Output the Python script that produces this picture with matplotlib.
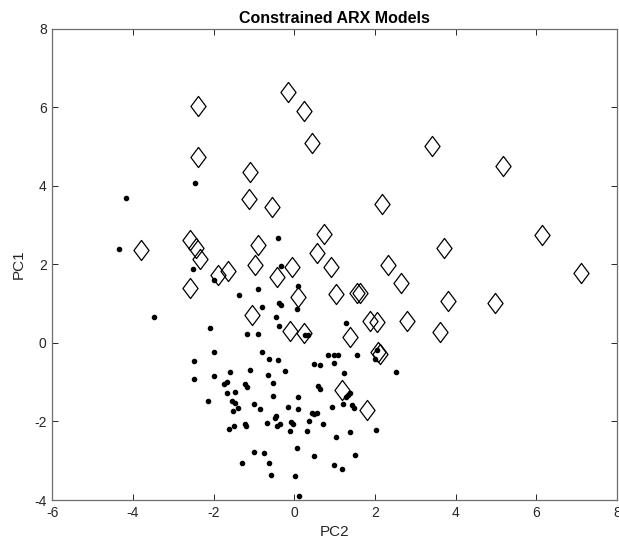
import numpy as np
import matplotlib
matplotlib.use("Agg")
import matplotlib.pyplot as plt
from matplotlib.path import Path

# constrained models (diamonds)
diamond_pc2 = [-2.40, -2.40, -0.16, 0.23, 0.43, -1.11, -1.13, -0.56, 3.42, 5.18,
               2.16, 0.73, 0.56, 0.90, 3.72, 6.13, 7.11, 2.33, 2.65, 1.04,
               1.55, 1.62, 3.80, 4.98, 1.88, 2.05, 2.80, 3.61, 1.38, 0.24,
               2.08, 2.12, 0.10, -3.80, -2.59, -2.45, -2.33, -2.59, -1.89, -1.64,
               -0.91, -0.97, -0.42, -0.05, -1.05, -0.10, 1.18, 1.79]
diamond_pc1 = [6.03, 4.73, 6.40, 5.91, 5.10, 4.36, 3.67, 3.46, 5.02, 4.50,
               3.55, 2.78, 2.29, 1.94, 2.43, 2.74, 1.79, 1.99, 1.54, 1.25,
               1.28, 1.27, 1.08, 1.02, 0.57, 0.53, 0.56, 0.27, 0.16, 0.25,
               -0.22, -0.28, 1.17, 2.37, 2.62, 2.41, 2.15, 1.39, 1.74, 1.83,
               2.49, 1.99, 1.68, 1.94, 0.71, 0.31, -1.20, -1.71]

# all models (dots)
dot_pc2 = [-4.17, -2.46, -4.35, -2.51, -3.49, -2.00, -1.37, -0.41, -0.32, 0.08,
           -0.91, -0.81, -0.37, -0.33, 0.06, -0.45, -0.38, -2.09, -1.18, -0.90,
           0.26, 0.33, -1.99, -0.80, 0.84, 0.97, 1.08, -0.62, -0.41, -2.48,
           -2.50, -1.98, -1.60, -1.10, -0.23, -0.66, -0.53, -1.75, -1.66, -1.23,
           -1.18, -1.66, -1.47, -0.52, 0.08, -2.14, -1.55, -1.46, -1.51, -1.40,
           -1.61, -1.49, -1.23, -1.21, -1.00, -0.85, -0.68, -0.48, -0.46, -0.43,
           -0.35, -0.16, -0.12, -0.08, -0.03, 0.09, 0.06, -1.00, -0.75, -1.30,
           -0.63, -0.59, 0.02, 0.11, 1.27, 2.05, 2.01, 1.56, 0.99, 0.48,
           0.63, 1.22, 2.51, 0.59, 0.63, 1.33, 1.37, 1.29, 1.21, 1.42,
           1.47, 0.93, 0.43, 0.49, 0.56, 0.36, 0.71, 0.32, 1.38, 1.03,
           2.03, 0.48, 1.51, 0.98, 1.17]
dot_pc1 = [3.70, 4.07, 2.39, 1.89, 0.65, 1.61, 1.22, 2.67, 1.97, 1.45,
           1.37, 0.91, 1.03, 0.97, 0.87, 0.67, 0.43, 0.38, 0.22, 0.22,
           0.20, 0.20, -0.22, -0.23, -0.31, -0.31, -0.31, -0.42, -0.44, -0.45,
           -0.91, -0.84, -0.74, -0.69, -0.71, -0.82, -1.01, -1.04, -0.99, -1.04,
           -1.13, -1.27, -1.25, -1.34, -1.37, -1.47, -1.47, -1.53, -1.74, -1.66,
           -2.18, -2.12, -2.07, -2.12, -1.55, -1.69, -2.05, -1.90, -1.87, -2.11,
           -2.06, -1.62, -2.24, -2.02, -2.06, -1.68, -2.67, -2.77, -2.79, -3.05,
           -3.06, -3.36, -3.38, -3.90, 0.52, -0.19, -0.42, -0.31, -0.50, -0.54,
           -0.57, -0.76, -0.75, -1.10, -1.17, -1.32, -1.28, -1.38, -1.55, -1.59,
           -1.66, -1.64, -1.79, -1.81, -1.79, -1.99, -2.06, -2.23, -2.27, -2.40,
           -2.22, -2.89, -2.86, -3.11, -3.21]

xticks = [-6, -4, -2, 0, 2, 4, 6, 8]
yticks = [-4, -2, 0, 2, 4, 6, 8]

plt.rcParams['font.family'] = ['Liberation Sans', 'DejaVu Sans']
plt.rcParams['axes.unicode_minus'] = False

# MATLAB style diamond: taller than wide
tall_diamond = Path([(0, 1), (0.75, 0), (0, -1), (-0.75, 0), (0, 1)],
                    [Path.MOVETO, Path.LINETO, Path.LINETO, Path.LINETO, Path.CLOSEPOLY])

fig = plt.figure(figsize=(6.19, 5.5), dpi=100)
ax = fig.add_axes([0.0845, 0.0909, 0.9125, 0.8565])

ax.plot(dot_pc2, dot_pc1, 'o', color='black', markersize=3.0, linestyle='none')
ax.plot(diamond_pc2, diamond_pc1, marker=tall_diamond, markersize=14.5, linestyle='none',
        markerfacecolor='none', markeredgecolor='black', markeredgewidth=0.9)

ax.set_xlim(-6, 8)
ax.set_ylim(-4, 8)
ax.set_xticks(xticks)
ax.set_yticks(yticks)
ax.tick_params(direction='in', length=4, width=0.7, top=True, right=True,
               labelsize=10, colors='#262626', pad=4)
for s in ax.spines.values():
    s.set_color('#6e6e6e')
    s.set_linewidth(0.9)

ax.set_title('Constrained ARX Models', fontsize=11.5, fontweight='bold', pad=4)
ax.set_xlabel('PC2', fontsize=11, color='#262626', labelpad=4)
ax.set_ylabel('PC1', fontsize=11, color='#262626', labelpad=6)

fig.savefig('out.png', dpi=100)
